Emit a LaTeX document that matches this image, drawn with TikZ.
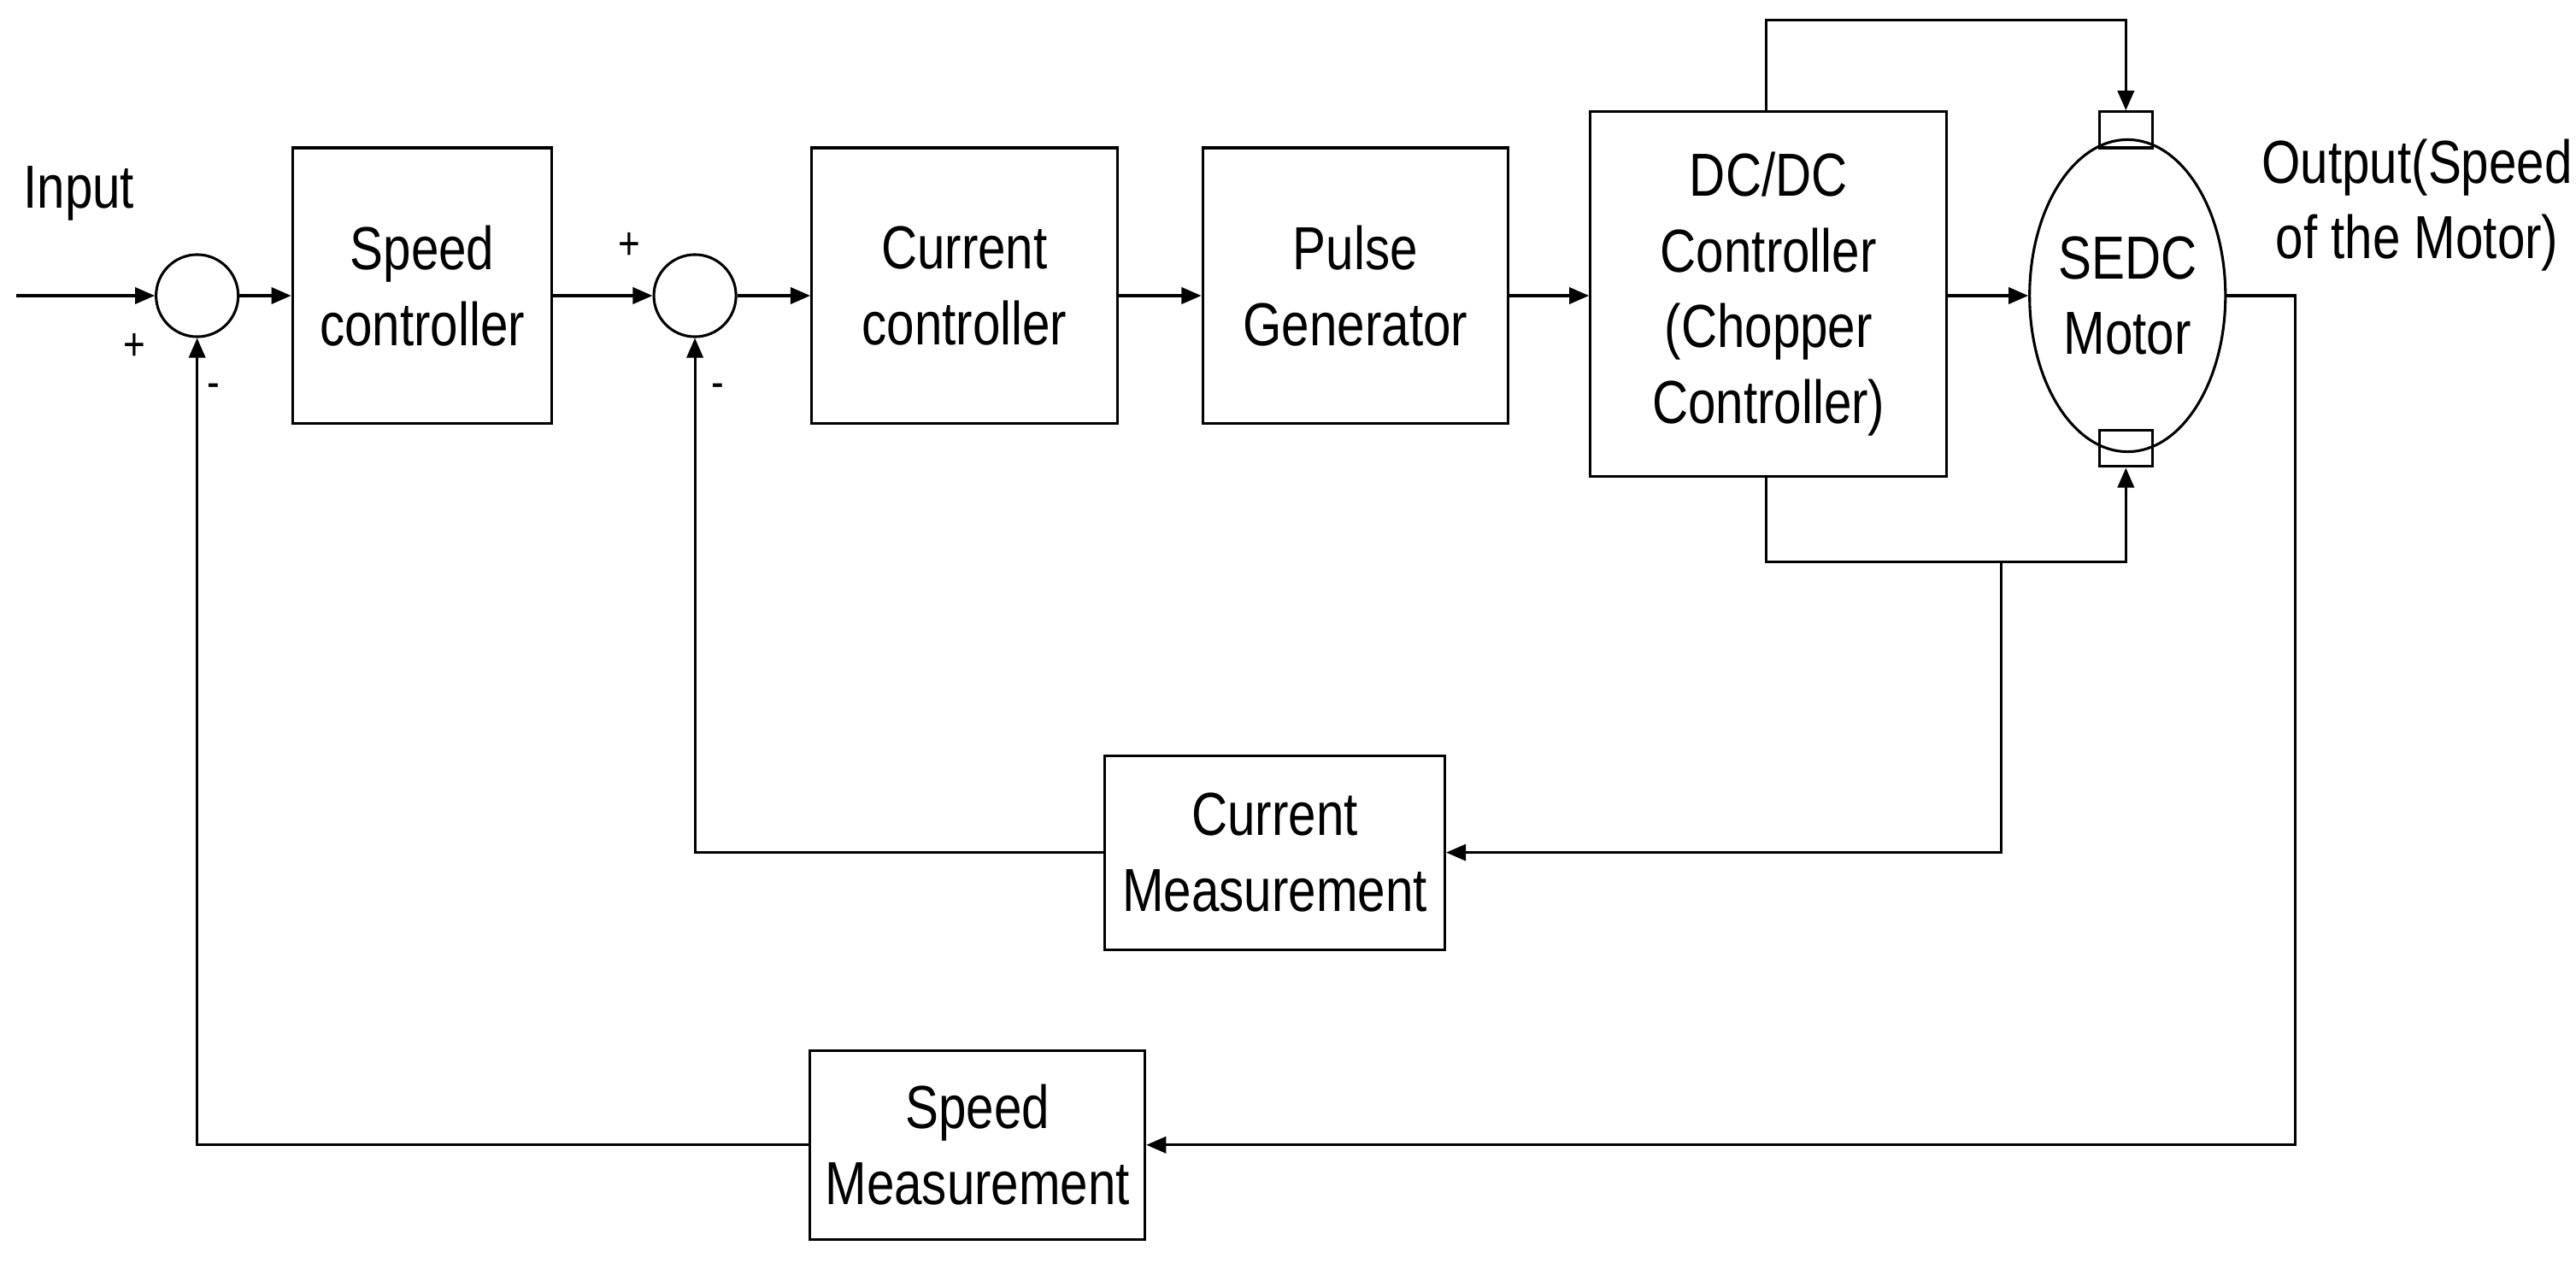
\documentclass[tikz,border=0pt]{standalone}
\usepackage{fontspec}
\setmainfont{Liberation Sans}[FakeStretch=0.82]
\usetikzlibrary{arrows.meta,shapes.geometric}
\begin{document}
\begin{tikzpicture}[x=0.5pt,y=-0.5pt,
  blk/.style={rectangle, draw=black, line width=0.8pt, align=center, font=\fontsize{18.5}{23}\selectfont, inner sep=0pt},
  sum/.style={circle, draw=black, line width=0.8pt, minimum size=25pt, inner sep=0pt},
  lbl/.style={font=\fontsize{18.5}{23}\selectfont, inner sep=0pt},
  sgn/.style={font=\fontsize{14}{16}\selectfont, inner sep=0pt},
  line width=0.8pt,
  arr/.style={-{Triangle[length=6pt,width=5pt]}}]
\useasboundingbox (0,0) rectangle (1568,776);
% blocks
\node[blk, minimum width=79pt, minimum height=84pt] (sc) at (257,174) {Speed\\controller};
\node[sum] (s1) at (120,180) {};
\node[sum] (s2) at (423,180) {};
\node[blk, minimum width=93pt, minimum height=84pt] (cc) at (587,174) {Current\\controller};
\node[blk, minimum width=93pt, minimum height=84pt] (pg) at (825,174) {Pulse\\Generator};
\node[blk, minimum width=108.5pt, minimum height=111pt] (dc) at (1076.5,179) {DC/DC\\Controller\\(Chopper\\Controller)};
\node[ellipse, draw=black, line width=0.8pt, minimum width=57pt, minimum height=95pt, inner sep=0pt, align=center, font=\fontsize{18.5}{23}\selectfont] (m) at (1295,180) {SEDC\\Motor};
\node[rectangle, draw=black, line width=0.8pt, minimum width=16pt, minimum height=11pt, inner sep=0pt] (bt) at (1294,79) {};
\node[rectangle, draw=black, line width=0.8pt, minimum width=16pt, minimum height=11pt, inner sep=0pt] (bb) at (1294,273) {};
\node[blk, minimum width=103.5pt, minimum height=59pt] (cm) at (776,519) {Current\\Measurement};
\node[blk, minimum width=102pt, minimum height=57.5pt] (sm) at (595,697) {Speed\\Measurement};
% texts
\node[lbl] (in) at (48,118) {Input};
\node[lbl, align=center, anchor=west] (out) at (1376,125) {Output(Speed\\of the Motor)};
\node[sgn] (p1) at (82,211) {+};
\node[sgn] (n1) at (130,238) {-};
\node[sgn] (p2) at (383,150) {+};
\node[sgn] (n2) at (437,238) {-};
% coordinates
\coordinate (st) at (10,180);
\coordinate (t1) at (1075,12);
\coordinate (t2) at (1294,12);
\coordinate (b1) at (1075,342);
\coordinate (b2) at (1294,342);
\coordinate (br) at (1218,342);
\coordinate (o1) at (1397,180);
% forward path
\draw[arr] (st) -- (s1);
\draw[arr] (s1) -- (s1 -| sc.west);
\draw[arr] (s2 -| sc.east) -- (s2);
\draw[arr] (s2) -- (s2 -| cc.west);
\draw[arr] (s2 -| cc.east) -- (s2 -| pg.west);
\draw[arr] (s2 -| pg.east) -- (s2 -| dc.west);
\draw[arr] (s2 -| dc.east) -- (m);
\draw[arr] (dc.north -| t1) -- (t1) -- (t2) -- (bt.north);
\draw[arr] (dc.south -| b1) -- (b1) -- (b2) -- (bb.south);
% current loop
\draw[arr] (br) |- (cm.east);
\draw[arr] (cm.west) -| (s2.south);
% speed loop
\draw[arr] (m.east) -- (o1) |- (sm.east);
\draw[arr] (sm.west) -| (s1.south);
\end{tikzpicture}
\end{document}
